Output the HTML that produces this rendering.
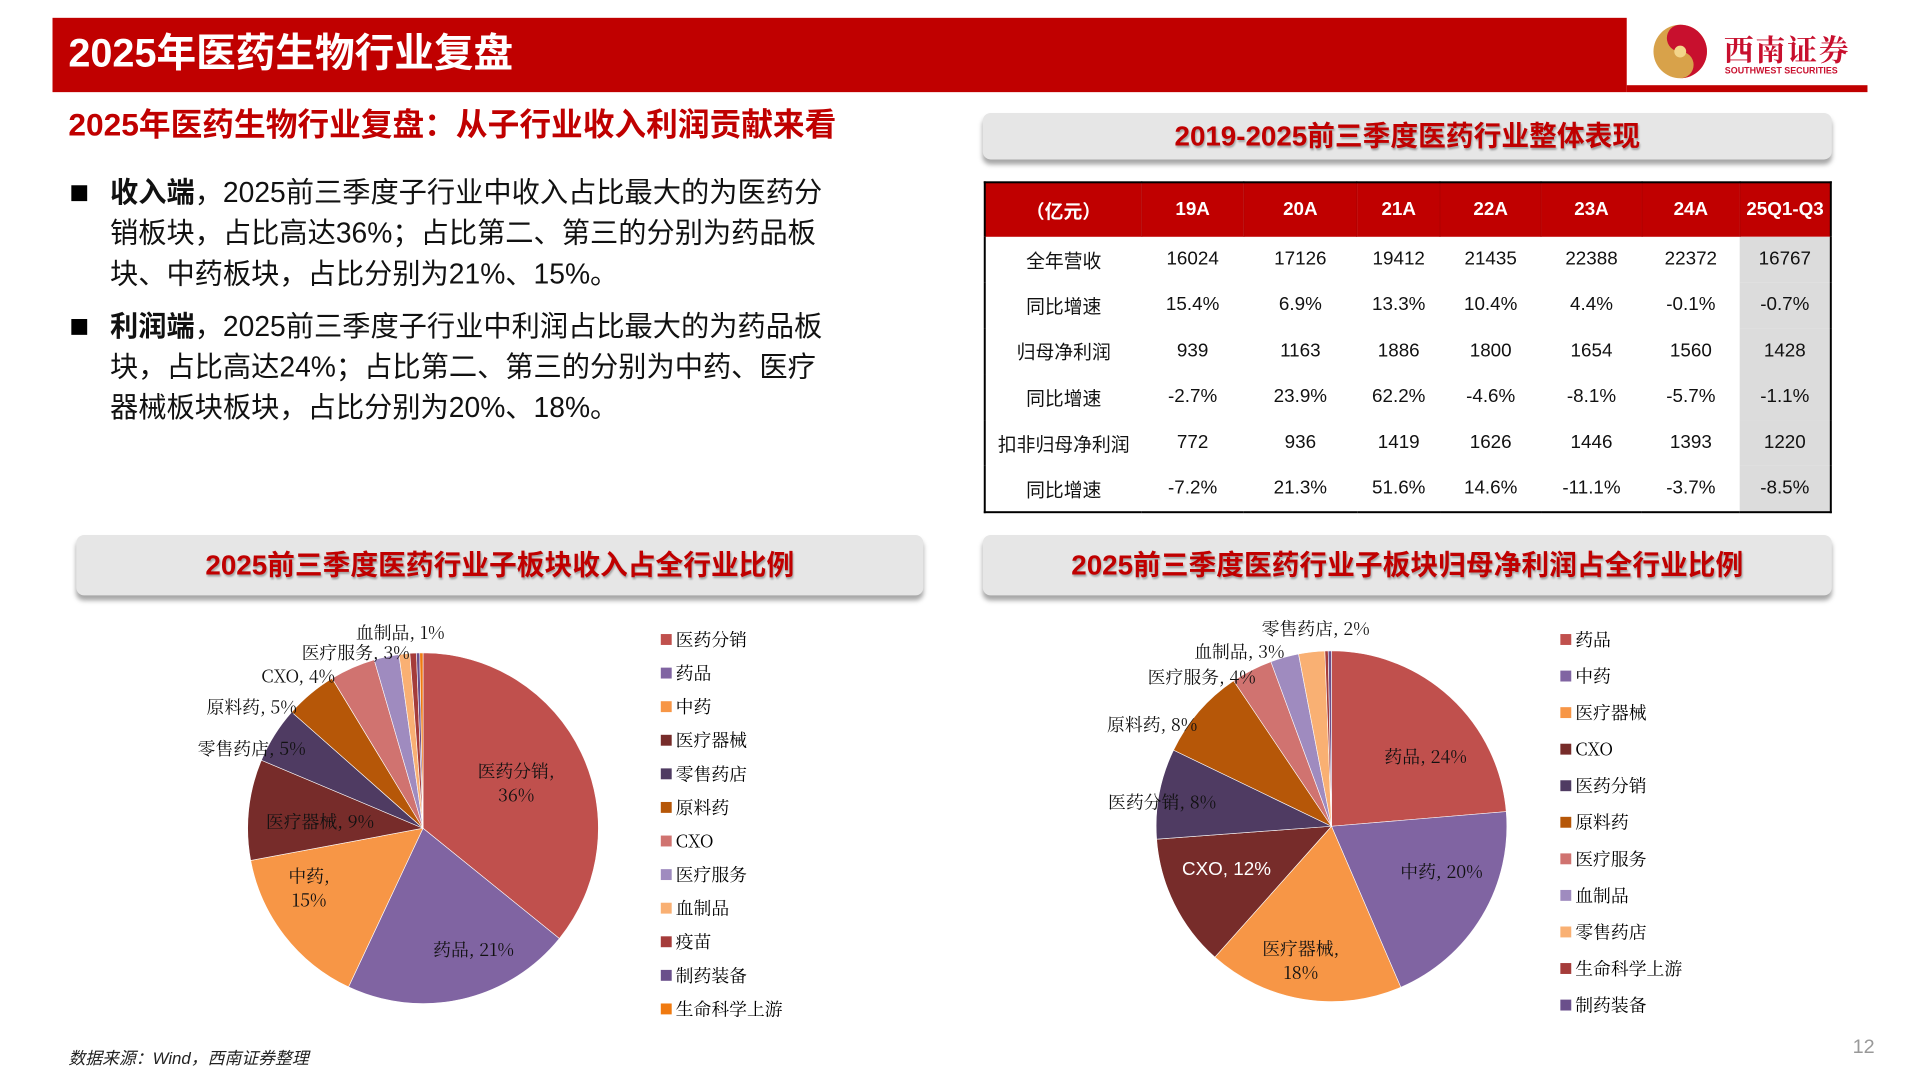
<!DOCTYPE html>
<html><head><meta charset="utf-8">
<style>
*{margin:0;padding:0;box-sizing:border-box}
body{width:1920px;height:1080px;background:#fff;position:relative;overflow:hidden;font-family:"Liberation Sans","Noto Sans CJK SC",sans-serif}
#wrap{position:absolute;left:0;top:0;width:1920px;height:1080px;transform:scale(0.9907);transform-origin:0 0}
.abs{position:absolute}
.hdr{left:53px;top:18px;width:1589px;height:75px;background:#c00000}
.hdr2{left:1642px;top:86px;width:243px;height:7px;background:#c00000}
.title{left:69px;top:24px;color:#fff;font-weight:bold;font-size:40px;line-height:60px}
.sub{left:69px;top:105px;color:#c00000;font-weight:bold;font-size:32px;line-height:42px;white-space:nowrap}
.bul{left:72px;width:16px;height:16px;background:#000}
.txt{left:111px;font-size:28.5px;line-height:41px;color:#111;white-space:nowrap}
.box{background:#e6e6e6;border-radius:8px;box-shadow:0 5px 5px rgba(0,0,0,0.35);color:#c00000;font-weight:bold;font-size:28px;text-align:center;text-shadow:1px 2px 2px rgba(0,0,0,0.3)}
table{position:absolute;left:993px;top:183px;width:856px;border-collapse:collapse;border:2px solid #000;font-size:19px}
th{background:#c00000;color:#fff;height:55px;font-weight:bold;border-right:1px solid #b00000}
td{height:46.3px;text-align:center;color:#111}
td.g{background:#dcdcdc}
.leg{font-family:"Noto Serif CJK SC","Liberation Serif",serif;font-size:18px;color:#222}
.lab{font-family:"Noto Serif CJK SC","Liberation Serif",serif;font-size:18px;color:#111;white-space:nowrap;text-align:center;line-height:24px}
</style></head><body>
<div id="wrap">
<div class="abs hdr"></div>
<div class="abs hdr2"></div>
<div class="abs title">2025年医药生物行业复盘</div>
<div class="abs" style="left:1668px;top:22px;width:200px;height:62px">
<svg width="200" height="62"><circle cx="28" cy="30" r="27" fill="#d8a24a"/><path d="M28 3 A27 27 0 0 1 28 57 A13 13 0 0 0 28 30 A13 13 0 0 1 28 3Z" fill="#c8102e"/><circle cx="28" cy="30" r="6" fill="#f3d58a"/></svg>
<div class="abs" style="left:72px;top:4px;color:#c8102e;font-weight:bold;font-size:30px;font-family:'Noto Serif CJK SC',serif;letter-spacing:2px">西南证券</div>
<div class="abs" style="left:73px;top:44px;color:#c8102e;font-size:9px;font-weight:bold">SOUTHWEST SECURITIES</div>
</div>
<div class="abs sub">2025年医药生物行业复盘：从子行业收入利润贡献来看</div>
<div class="abs bul" style="top:187px"></div>
<div class="abs txt" style="top:175px"><b>收入端</b>，2025前三季度子行业中收入占比最大的为医药分<br>销板块，占比高达36%；占比第二、第三的分别为药品板<br>块、中药板块，占比分别为21%、15%。</div>
<div class="abs bul" style="top:322px"></div>
<div class="abs txt" style="top:310px"><b>利润端</b>，2025前三季度子行业中利润占比最大的为药品板<br>块，占比高达24%；占比第二、第三的分别为中药、医疗<br>器械板块板块，占比分别为20%、18%。</div>

<div class="abs box" style="left:992px;top:114px;width:857px;height:47px;line-height:47px">2019-2025前三季度医药行业整体表现</div>
<table>
<colgroup><col style="width:159px"><col style="width:103px"><col style="width:115px"><col style="width:84px"><col style="width:102px"><col style="width:102px"><col style="width:99px"><col style="width:92px"></colgroup>
<tr><th>（亿元）</th><th>19A</th><th>20A</th><th>21A</th><th>22A</th><th>23A</th><th>24A</th><th>25Q1-Q3</th></tr>
<tr><td>全年营收</td><td>16024</td><td>17126</td><td>19412</td><td>21435</td><td>22388</td><td>22372</td><td class="g">16767</td></tr>
<tr><td>同比增速</td><td>15.4%</td><td>6.9%</td><td>13.3%</td><td>10.4%</td><td>4.4%</td><td>-0.1%</td><td class="g">-0.7%</td></tr>
<tr><td>归母净利润</td><td>939</td><td>1163</td><td>1886</td><td>1800</td><td>1654</td><td>1560</td><td class="g">1428</td></tr>
<tr><td>同比增速</td><td>-2.7%</td><td>23.9%</td><td>62.2%</td><td>-4.6%</td><td>-8.1%</td><td>-5.7%</td><td class="g">-1.1%</td></tr>
<tr><td>扣非归母净利润</td><td>772</td><td>936</td><td>1419</td><td>1626</td><td>1446</td><td>1393</td><td class="g">1220</td></tr>
<tr><td>同比增速</td><td>-7.2%</td><td>21.3%</td><td>51.6%</td><td>14.6%</td><td>-11.1%</td><td>-3.7%</td><td class="g">-8.5%</td></tr>
</table>

<div class="abs box" style="left:77px;top:540px;width:855px;height:61px;line-height:61px">2025前三季度医药行业子板块收入占全行业比例</div>
<div class="abs box" style="left:992px;top:540px;width:857px;height:61px;line-height:61px">2025前三季度医药行业子板块归母净利润占全行业比例</div>

<svg class="abs" id="pies" style="left:0;top:0" width="1920" height="1080"></svg>
<div id="labels"></div>

<div class="abs" style="left:69px;top:1054px;font-size:17px;font-style:italic;color:#222">数据来源：Wind，西南证券整理</div>
<div class="abs" style="left:1870px;top:1046px;font-size:20px;color:#999">12</div>
</div>
<script>
const revCats=["医药分销","药品","中药","医疗器械","零售药店","原料药","CXO","医疗服务","血制品","疫苗","制药装备","生命科学上游"];
const revVals=[35.9,21.2,15.1,9.3,5.2,4.8,4.2,2.3,1.0,0.6,0.3,0.3];
const revColors=["#c0504d","#8064a2","#f79646","#772c2a","#4f3b62","#b65708","#d07370","#9f8bbf","#f9b073","#a53c3a","#6a4f8b","#f07a10"];
const revLabels=[["医药分销,","36%"],["药品, 21%"],["中药,","15%"],["医疗器械, 9%"],["零售药店, 5%"],["原料药, 5%"],["CXO, 4%"],["医疗服务, 3%"],["血制品, 1%"],null,null,null];
const profCats=["药品","中药","医疗器械","CXO","医药分销","原料药","医疗服务","血制品","零售药店","生命科学上游","制药装备"];
const profVals=[23.6,19.8,18.0,12.2,8.3,8.4,3.8,2.6,2.4,0.3,0.3];
const profColors=["#c0504d","#8064a2","#f79646","#772c2a","#4f3b62","#b65708","#d07370","#9f8bbf","#f9b073","#a53c3a","#6a4f8b"];
const profLabels=[["药品, 24%"],["中药, 20%"],["医疗器械,","18%"],["CXO, 12%"],["医药分销, 8%"],["原料药, 8%"],["医疗服务, 4%"],["血制品, 3%"],["零售药店, 2%"],null,null];
const revLabelPos=[[521,790],[478,958],[312,896],[323,829],[254,755],[254,713],[301,682],[359,658],[404,638]];
const profLabelPos=[[1439,763],[1455,879],[1313,969],[1238,878],[1173,809],[1163,731],[1213,683],[1251,657],[1328,634]];
const NS="http://www.w3.org/2000/svg";
const svg=document.getElementById('pies');
const labs=document.getElementById('labels');
function drawPie(name,cx,cy,r,vals,colors,cats,labels,lpos,legX,legY,legStep){
  const total=vals.reduce((a,b)=>a+b,0);
  let a0=-Math.PI/2;
  vals.forEach((v,i)=>{
    const a1=a0+v/total*2*Math.PI;
    const x0=cx+r*Math.cos(a0),y0=cy+r*Math.sin(a0),x1=cx+r*Math.cos(a1),y1=cy+r*Math.sin(a1);
    const large=(a1-a0)>Math.PI?1:0;
    const p=document.createElementNS(NS,'path');
    p.setAttribute('d',`M${cx},${cy}L${x0},${y0}A${r},${r} 0 ${large} 1 ${x1},${y1}Z`);
    p.setAttribute('fill',colors[i]);
    p.setAttribute('stroke','#fff');p.setAttribute('stroke-width','0.6');
    
    
    svg.appendChild(p);
    a0=a1;
  });
  cats.forEach((c,i)=>{
    const y=legY+i*legStep;
    const sq=document.createElementNS(NS,'rect');
    sq.setAttribute('x',legX);sq.setAttribute('y',y-6);sq.setAttribute('width',11);sq.setAttribute('height',11);
    sq.setAttribute('fill',colors[i]);
    
    
    svg.appendChild(sq);
    const t=document.createElementNS(NS,'text');
    t.setAttribute('x',legX+15);t.setAttribute('y',y+6);
    t.setAttribute('class','leg');
    t.textContent=c;
    
    
    svg.appendChild(t);
  });
  labels.forEach((l,i)=>{
    if(!l||!lpos[i])return;
    const d=document.createElement('div');
    d.className='abs lab';
    d.style.left=(lpos[i][0]-80)+'px';d.style.width='160px';
    d.style.top=(lpos[i][1]-l.length*12)+'px';
    d.innerHTML=l.join('<br>');
    if(cats[i]==='CXO'&&name==='profit-pie'){d.style.color='#fff';d.style.fontFamily='"Liberation Sans",sans-serif';d.style.fontSize='19px';}
    
    
    labs.appendChild(d);
  });
}
drawPie('revenue-pie',427,836,177,revVals,revColors,revCats,revLabels,revLabelPos,667,646,33.9);
drawPie('profit-pie',1344,834,177,profVals,profColors,profCats,profLabels,profLabelPos,1575,646,36.9);
</script>
</body></html>
